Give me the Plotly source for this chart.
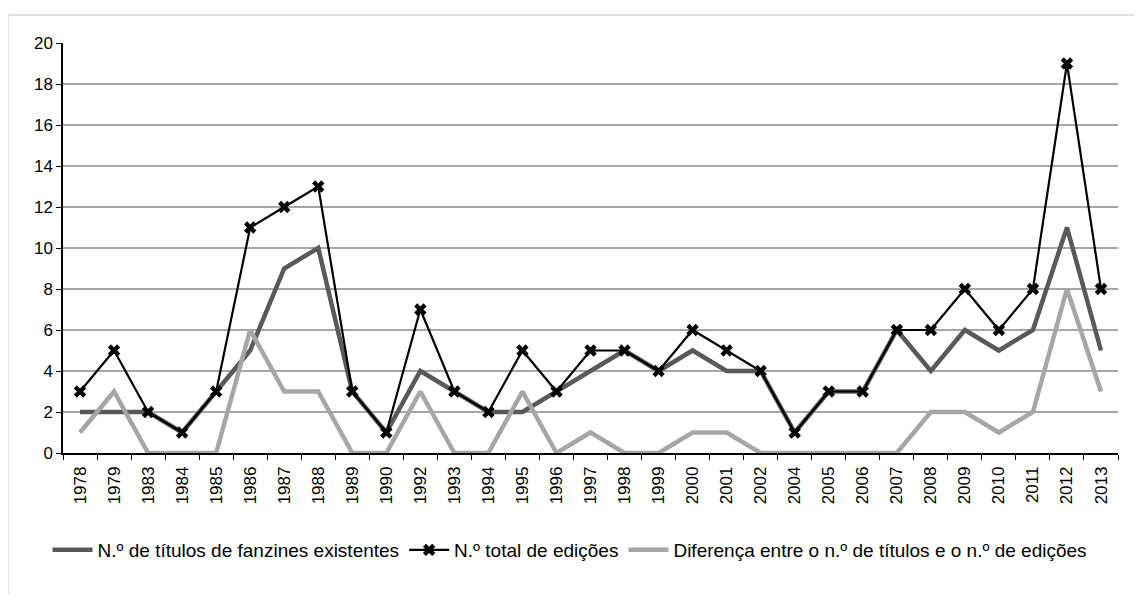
import plotly.graph_objects as go

years = ["1978", "1979", "1983", "1984", "1985", "1986", "1987", "1988", "1989", "1990",
         "1992", "1993", "1994", "1995", "1996", "1997", "1998", "1999", "2000", "2001",
         "2002", "2004", "2005", "2006", "2007", "2008", "2009", "2010", "2011", "2012", "2013"]
titulos = [2, 2, 2, 1, 3, 5, 9, 10, 3, 1, 4, 3, 2, 2, 3, 4, 5, 4, 5, 4, 4, 1, 3, 3, 6, 4, 6, 5, 6, 11, 5]
edicoes = [3, 5, 2, 1, 3, 11, 12, 13, 3, 1, 7, 3, 2, 5, 3, 5, 5, 4, 6, 5, 4, 1, 3, 3, 6, 6, 8, 6, 8, 19, 8]
diferenca = [1, 3, 0, 0, 0, 6, 3, 3, 0, 0, 3, 0, 0, 3, 0, 1, 0, 0, 1, 1, 0, 0, 0, 0, 0, 2, 2, 1, 2, 8, 3]

FONT = "Liberation Sans"

fig = go.Figure()
fig.add_trace(go.Scatter(x=years, y=titulos, mode="lines",
                         name="N.º de títulos de fanzines existentes",
                         line=dict(color="#595959", width=4.5)))
fig.add_trace(go.Scatter(x=years, y=edicoes, mode="lines+markers",
                         name="N.º total de edições",
                         line=dict(color="#000000", width=2.2),
                         marker=dict(symbol="x", size=11, color="#000000")))
fig.add_trace(go.Scatter(x=years, y=diferenca, mode="lines",
                         name="Diferença entre o n.º de títulos e o n.º de edições",
                         line=dict(color="#a6a6a6", width=4.5)))

# page body has an 8px offset
OFF = 8
W, H = 1143 - 2 * OFF, 602 - 2 * OFF
L, T = 63 - OFF, 43 - OFF
R = W - (1118 - OFF)
B = H - (453 - OFF)
pw, ph = W - L - R, H - T - B

def px(x):
    return (x - OFF - L) / pw

def py(y):
    return (H - B - (y - OFF)) / ph

shapes = [
    dict(type="line", xref="paper", yref="paper", x0=px(8), x1=px(1160), y0=py(15), y1=py(15),
         line=dict(color="#d9d9d9", width=1.5)),
    dict(type="line", xref="paper", yref="paper", x0=px(8), x1=px(8), y0=py(15), y1=py(620),
         line=dict(color="#d9d9d9", width=1.5)),
]

fig.update_layout(
    width=W, height=H,
    margin=dict(l=L, r=R, t=T, b=B),
    paper_bgcolor="white", plot_bgcolor="white",
    font=dict(family=FONT, size=16, color="#000000"),
    shapes=shapes,
    showlegend=True,
    legend=dict(orientation="h", x=px(570), xanchor="center", y=py(550), yanchor="middle",
                font=dict(family=FONT, size=19, color="#000000"),
                itemwidth=40, tracegroupgap=0),
    xaxis=dict(type="category", range=[-0.5, len(years) - 0.5],
               showline=True, linecolor="#000000", linewidth=1.5,
               ticks="outside", tickson="boundaries", ticklen=5, tickcolor="#000000",
               tickangle=-90, showgrid=False, tickfont=dict(size=17),
               ticklabelstandoff=5),
    yaxis=dict(range=[0, 20], dtick=2, showline=True, linecolor="#000000", linewidth=1.5,
               ticks="outside", ticklen=5, tickcolor="#000000",
               showgrid=True, gridcolor="#a6a6a6", gridwidth=1.5,
               zeroline=False, tickfont=dict(size=17)),
)

fig.write_html("out.html")
